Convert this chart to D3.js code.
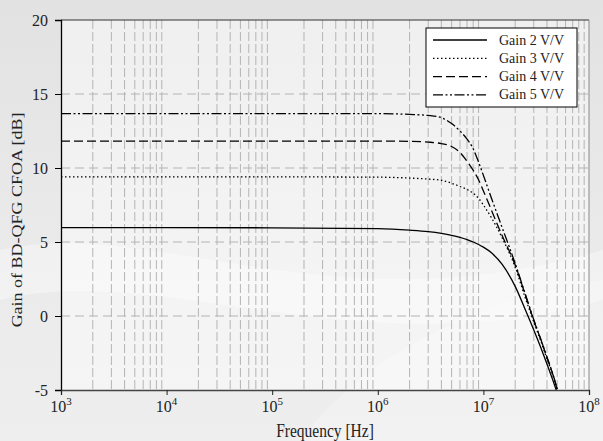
<!DOCTYPE html>
<html>
<head>
<meta charset="utf-8">
<script src="https://cdn.jsdelivr.net/npm/d3@7"></script>
<style>
  html, body { margin: 0; padding: 0; background: #e8e8e8; }
  svg, svg text { font-family: "Liberation Serif", "Times New Roman", serif; }
  svg { display: block; }
</style>
</head>
<body>
<div id="chart"></div>
<script>
// --- DATEN ---
const freqs = [1e3, 1e4, 1e5, 1e6, 2e6, 3e6, 4e6, 5e6, 6e6, 7e6, 8e6, 9e6, 1e7, 1.2e7, 1.5e7, 2e7, 2.5e7, 3e7, 3.5e7, 4e7, 4.5e7, 5e7];
const gain2 = [5.97, 5.97, 5.96, 5.9, 5.8, 5.7, 5.58, 5.45, 5.31, 5.16, 5.0, 4.83, 4.65, 4.25, 3.5, 2.0, 0.4, -0.95, -2.15, -3.25, -4.25, -5.2];
const gain3 = [9.4, 9.4, 9.4, 9.38, 9.32, 9.25, 9.17, 8.97, 8.75, 8.55, 8.3, 7.95, 7.5, 6.6, 5.3, 3.3, 1.2, -0.4, -1.7, -2.9, -3.9, -5.0];
const gain4 = [11.82, 11.82, 11.82, 11.82, 11.8, 11.75, 11.65, 11.45, 11.05, 10.45, 9.85, 9.2, 8.45, 7.1, 5.45, 3.45, 1.4, -0.3, -1.6, -2.8, -3.85, -4.95];
const gain5 = [13.68, 13.68, 13.68, 13.68, 13.62, 13.55, 13.4, 13.0, 12.5, 11.95, 11.3, 10.4, 9.5, 7.9, 6.0, 3.55, 1.45, -0.25, -1.58, -2.78, -3.82, -4.92];
const seriesNames = ["Gain 2 V/V", "Gain 3 V/V", "Gain 4 V/V", "Gain 5 V/V"];
const yTicks = [-5, 0, 5, 10, 15, 20];
const xExponents = [3, 4, 5, 6, 7, 8];

// --- KONFIGURATION ---
const width = 603, height = 441;
const margin = { top: 20, right: 14, bottom: 51, left: 61 };
const serif = "'Liberation Serif', 'Times New Roman', serif";
const dashes = [null, "1.5,2.5", "9,4", "10,2.5,2,2.5,2,2.5"];

const svg = d3.select("#chart").append("svg")
  .attr("width", width)
  .attr("height", height);

// Hintergrund (Verlauf + helle Schwünge)
const defs = svg.append("defs");
const bg = defs.append("linearGradient").attr("id", "bg").attr("x1", 0).attr("y1", 0).attr("x2", 0).attr("y2", 1);
bg.append("stop").attr("offset", "0%").attr("stop-color", "#e2e2e2");
bg.append("stop").attr("offset", "45%").attr("stop-color", "#e9e9e9");
bg.append("stop").attr("offset", "100%").attr("stop-color", "#eeeeee");
svg.append("rect").attr("width", width).attr("height", height).attr("fill", "url(#bg)");
svg.append("path")
  .attr("d", "M0,250 C150,215 330,330 603,250 L603,300 C360,370 160,260 0,300 Z")
  .attr("fill", "#ffffff").attr("opacity", 0.35);
svg.append("path")
  .attr("d", "M300,441 C360,360 470,300 603,280 L603,441 Z")
  .attr("fill", "#ffffff").attr("opacity", 0.25);

const x = d3.scaleLog()
  .domain([1e3, 1e8])
  .range([margin.left, width - margin.right]);

const y = d3.scaleLinear()
  .domain([-5, 20])
  .range([height - margin.bottom, margin.top]);

const [x0, x1] = x.range();
const [y0, y1] = y.range();

// Plotfläche
svg.append("rect")
  .attr("x", x0).attr("y", y1)
  .attr("width", x1 - x0).attr("height", y0 - y1)
  .attr("fill", "#ffffff").attr("opacity", 0.45);

defs.append("clipPath").attr("id", "clip")
  .append("rect")
  .attr("x", x0).attr("y", y1)
  .attr("width", x1 - x0).attr("height", y0 - y1);

// Gitter: nur Zwischenwerte 2..9 pro Dekade
const minorTicks = x.ticks().filter(d => {
  const m = Math.round(d / Math.pow(10, Math.floor(Math.log10(d) + 1e-9)));
  return m !== 1;
});
svg.append("g")
  .selectAll("line")
  .data(minorTicks)
  .join("line")
  .attr("x1", d => x(d)).attr("x2", d => x(d))
  .attr("y1", y1).attr("y2", y0)
  .attr("stroke", "#b4b4b4")
  .attr("stroke-width", 1)
  .attr("stroke-dasharray", "9,3");

svg.append("g")
  .selectAll("line")
  .data(yTicks.filter(d => d > -5 && d < 20))
  .join("line")
  .attr("x1", x0).attr("x2", x1)
  .attr("y1", d => y(d)).attr("y2", d => y(d))
  .attr("stroke", "#b4b4b4")
  .attr("stroke-width", 1)
  .attr("stroke-dasharray", "9,5");

// Rahmen oben/rechts
svg.append("line").attr("x1", x0).attr("x2", x1).attr("y1", y1).attr("y2", y1)
  .attr("stroke", "#333").attr("stroke-width", 1.2);
svg.append("line").attr("x1", x1).attr("x2", x1).attr("y1", y1).attr("y2", y0)
  .attr("stroke", "#888").attr("stroke-width", 1);

// Kurven
const allGains = [gain2, gain3, gain4, gain5];
const line = d3.line()
  .x(d => x(d[0]))
  .y(d => y(d[1]))
  .curve(d3.curveMonotoneX);

svg.append("g")
  .attr("clip-path", "url(#clip)")
  .selectAll("path")
  .data(allGains)
  .join("path")
  .attr("d", g => line(freqs.map((f, i) => [f, g[i]])))
  .attr("fill", "none")
  .attr("stroke", "#000")
  .attr("stroke-width", 1.3)
  .attr("stroke-dasharray", (d, i) => dashes[i]);

// Y-Achse
const yAxis = svg.append("g")
  .attr("transform", `translate(${x0},0)`)
  .call(d3.axisLeft(y).tickValues(yTicks).tickFormat(d => String(d)).tickSize(6).tickPadding(7));
yAxis.attr("font-family", null);
yAxis.select(".domain").attr("stroke", "#000").attr("stroke-width", 1.3);
yAxis.selectAll(".tick line").attr("stroke", "#000");
yAxis.selectAll(".tick text")
  .style("font-family", serif)
  .attr("font-size", 16)
  .attr("fill", "#222");

// X-Achse
const xAxis = svg.append("g")
  .attr("transform", `translate(0,${y0})`)
  .call(d3.axisBottom(x).tickValues(xExponents.map(e => Math.pow(10, e))).tickSize(5).tickFormat(""));
xAxis.select(".domain").attr("stroke", "#444").attr("stroke-width", 1.3);
xAxis.selectAll(".tick line").attr("stroke", "#222");

const xLabels = svg.append("g")
  .selectAll("text")
  .data(xExponents)
  .join("text")
  .attr("x", e => x(Math.pow(10, e)))
  .attr("y", y0 + 22)
  .attr("text-anchor", "middle")
  .style("font-family", serif)
  .attr("font-size", 16)
  .attr("fill", "#222");
xLabels.append("tspan").text("10");
xLabels.append("tspan").attr("dy", -7).attr("font-size", 11).text(e => e);

// Achsentitel
svg.append("text")
  .attr("transform", `translate(${(x0 + x1) / 2},${height - 4}) scale(1,1.15)`)
  .attr("text-anchor", "middle")
  .style("font-family", serif)
  .attr("font-size", 15.5)
  .attr("fill", "#222")
  .text("Frequency [Hz]");

svg.append("text")
  .attr("transform", `translate(22,${(y0 + y1) / 2 + 15}) rotate(-90) scale(1.2,1)`)
  .attr("text-anchor", "middle")
  .style("font-family", serif)
  .attr("font-size", 15)
  .attr("fill", "#222")
  .text("Gain of BD-QFG CFOA [dB]");

// Legende
const legend = svg.append("g").attr("transform", "translate(426,28)");
legend.append("rect")
  .attr("width", 151).attr("height", 79)
  .attr("fill", "#fff").attr("stroke", "#000").attr("stroke-width", 1);
const rows = legend.selectAll("g.row")
  .data(seriesNames)
  .join("g")
  .attr("class", "row")
  .attr("transform", (d, i) => `translate(0,${12 + i * 18.3})`);
rows.append("line")
  .attr("x1", 7).attr("x2", 61)
  .attr("stroke", "#000").attr("stroke-width", 1.3)
  .attr("stroke-dasharray", (d, i) => dashes[i]);
rows.append("text")
  .attr("x", 73).attr("y", 4.5)
  .style("font-family", serif)
  .attr("font-size", 14)
  .attr("fill", "#222")
  .text(d => d);
</script>
</body>
</html>
